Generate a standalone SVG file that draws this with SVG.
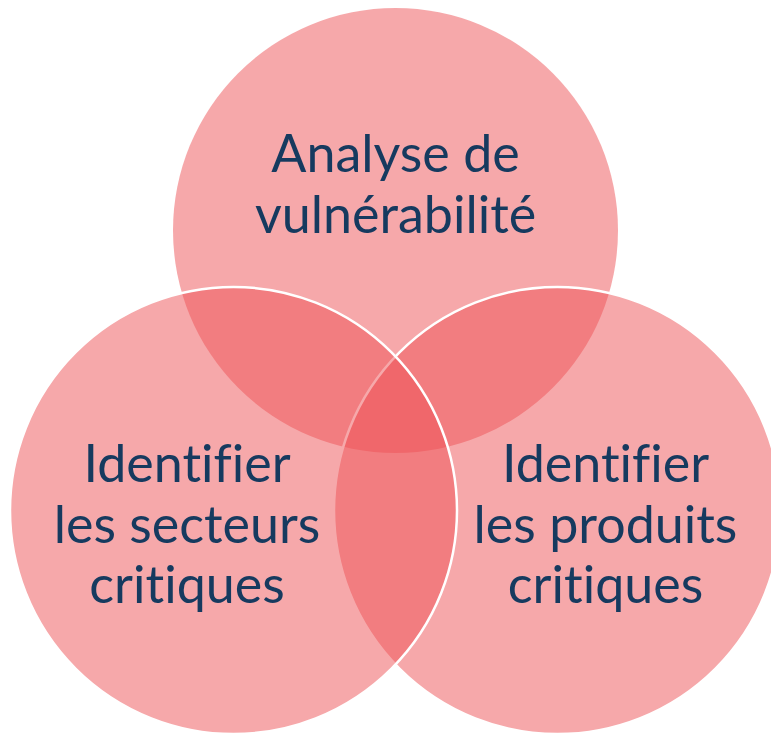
<svg xmlns="http://www.w3.org/2000/svg" width="771" height="734" viewBox="0 0 771 734">
  <style>
    .c { fill: #ED5156; fill-opacity: 0.5; }
    .s { stroke: #FFFFFF; stroke-width: 2.5; }
    .t { font-family: Lato, "Noto Sans", "Liberation Sans", sans-serif; font-size: 52px; fill: #163A5F; text-anchor: middle; font-variant-ligatures: none; font-feature-settings: "liga" 0; }
  </style>
  <rect width="771" height="734" fill="#FFFFFF"/>
  <g id="node-analyse">
    <circle class="c" cx="395.5" cy="230.5" r="222.5"/>
    <text class="t" x="395.5" y="172">Analyse de</text>
    <text class="t" x="395.5" y="233">vulnérabilité</text>
  </g>
  <g id="node-produits">
    <circle class="c s" cx="557.5" cy="510.5" r="223.5"/>
    <text class="t" x="605.5" y="482">Identifier</text>
    <text class="t" x="605.5" y="543">les produits</text>
    <text class="t" x="605.5" y="603">critiques</text>
  </g>
  <g id="node-secteurs">
    <circle class="c s" cx="233.5" cy="510.5" r="223.5"/>
    <text class="t" x="187" y="482">Identifier</text>
    <text class="t" x="187" y="543">les secteurs</text>
    <text class="t" x="187" y="603">critiques</text>
  </g>
</svg>
